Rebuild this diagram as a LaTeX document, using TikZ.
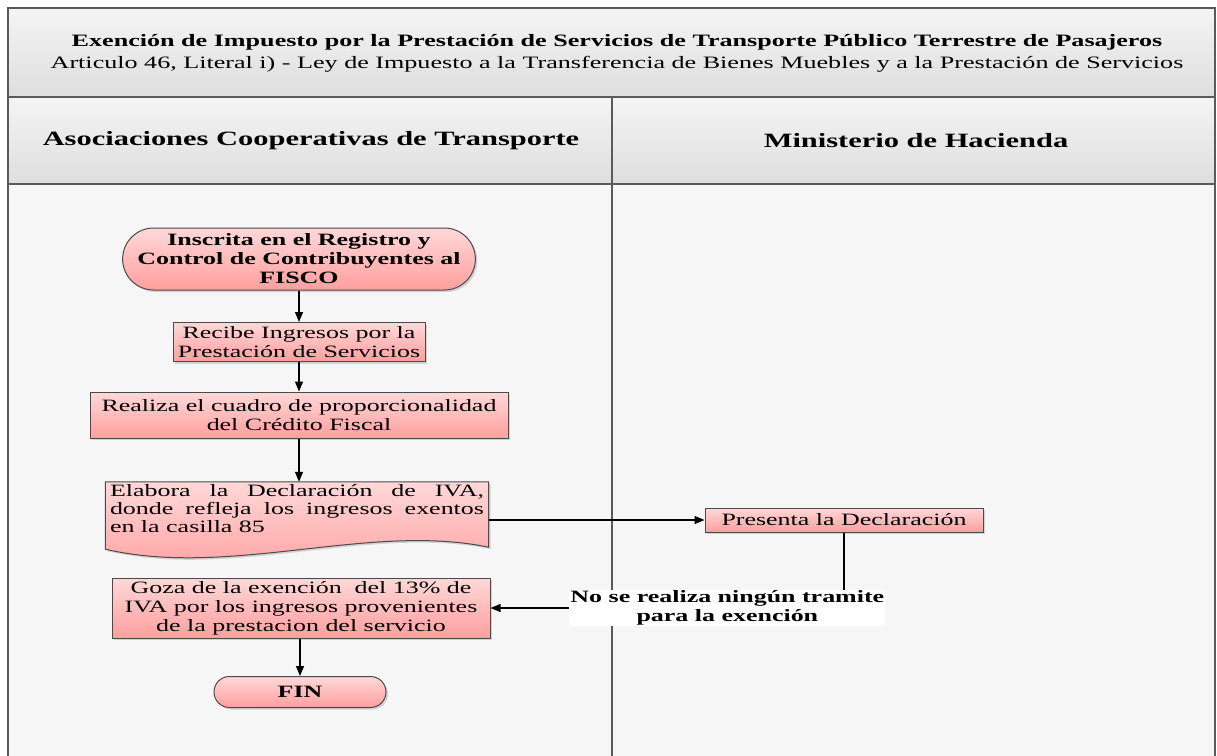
\documentclass[tikz,border=0pt]{standalone}
\usepackage{fontspec}
\setmainfont{Liberation Serif}[FakeStretch=1.5]
\usetikzlibrary{shapes.misc, arrows.meta, positioning, calc, shadows}
\definecolor{framegray}{HTML}{5A5A5A}
\definecolor{bandtop}{HTML}{F4F4F4}
\definecolor{bandbot}{HTML}{DEDEDE}
\definecolor{lanebg}{HTML}{F6F6F6}
\definecolor{pinktop}{HTML}{FFD8D8}
\definecolor{pinkbot}{HTML}{FF9E9E}
\definecolor{boxline}{HTML}{4A4A4A}
\newcommand{\boxfont}{\fontsize{17.3}{19}\selectfont}
\newcommand{\fullline}[1]{\makebox[374pt][s]{\spaceskip=0pt\xspaceskip=0pt #1}}

\begin{document}
\begin{tikzpicture}[x=1pt, y=-1pt,
    band/.style={draw=framegray, line width=1.3pt, top color=bandtop, bottom color=bandbot},
    lane/.style={draw=framegray, line width=1.3pt, fill=lanebg},
    proc/.style={draw=boxline, line width=1pt, top color=pinktop, bottom color=pinkbot,
        drop shadow={shadow xshift=2pt, shadow yshift=-2pt, opacity=0.3},
        font=\boxfont, align=center, inner sep=2pt},
    term/.style={proc, rounded rectangle, font=\boxfont\bfseries},
    flow/.style={-{Triangle[length=10pt, width=8pt]}, line width=1.2pt, black}]
    \useasboundingbox (0,0) rectangle (1217,755);

    % Title band and lanes
    \draw[band] (8,8) rectangle (1215,97);
    \draw[band] (8,97) rectangle (612,184);
    \draw[band] (612,97) rectangle (1215,184);
    \draw[lane] (8,184) rectangle (612,758);
    \draw[lane] (612,184) rectangle (1215,758);

    \node[align=center, font=\fontsize{17.4}{22}\selectfont] (title) at (617,53) {
        \textbf{Exención de Impuesto por la Prestación de Servicios de Transporte Público Terrestre de Pasajeros}\\
        Articulo 46, Literal i) - Ley de Impuesto a la Transferencia de Bienes Muebles y a la Prestación de Servicios
    };
    \node[font=\fontsize{20.3}{24}\selectfont\bfseries] (lanecoop) at (311,141) {Asociaciones Cooperativas de Transporte};
    \node[font=\fontsize{20.3}{24}\selectfont\bfseries] (lanemh) at (916,141) {Ministerio de Hacienda};

    % Cooperativas
    \node[term, minimum width=347pt, minimum height=62pt] (start) at (299,259) {
        Inscrita en el Registro y\\Control de Contribuyentes al\\FISCO
    };
    \node[proc, minimum width=252pt, minimum height=39pt] (recibe) at (299,342) {
        Recibe Ingresos por la\\Prestación de Servicios
    };
    \node[proc, minimum width=418pt, minimum height=46pt] (realiza) at (299,415) {
        Realiza el cuadro de proporcionalidad\\del Crédito Fiscal
    };
    \node[minimum width=383pt, minimum height=58pt, inner sep=0pt] (doc) at (297,511) {};
    \path[proc] (doc.north west) -- (doc.north east) -- ($(doc.south east)+(0,7)$)
        .. controls ($(doc.south east)+(-120,-18)$) and ($(doc.south west)+(126,38)$) .. ($(doc.south west)+(0,9)$) -- cycle;
    \node[font=\fontsize{17.3}{18}\selectfont, align=justify, text width=374pt, inner sep=1pt, anchor=north] (doctext) at ($(doc.north)+(0,1)$) {
        \fullline{Elabora la Declaración de IVA,}\\
        \fullline{donde refleja los ingresos exentos}\\
        en la casilla 85
    };
    \node[proc, minimum width=378pt, minimum height=60pt] (goza) at (301,608) {
        Goza de la exención\ \ del 13\% de\\IVA por los ingresos provenientes\\de la prestacion del servicio
    };
    \node[term, minimum width=176pt, minimum height=31pt] (fin) at (300,692) {FIN};

    % Ministerio
    \node[proc, minimum width=278pt, minimum height=24pt] (presenta) at (844,520) {Presenta la Declaración};

    % Connectors
    \draw[flow] (start.south) -- (start.south |- recibe.north);
    \draw[flow] (recibe.south) -- (recibe.south |- realiza.north);
    \draw[flow] (realiza.south) -- (realiza.south |- doc.north);
    \draw[flow] (doc.east |- presenta.west) -- (presenta.west);
    \draw[flow] (goza.south -| fin.north) -- (fin.north);
    \draw[flow] (presenta.south) |- node[pos=0.665, fill=white, inner sep=1pt, align=center, font=\boxfont\bfseries] (nota) {No se realiza ningún tramite\\para la exención} (goza.east);
\end{tikzpicture}
\end{document}
